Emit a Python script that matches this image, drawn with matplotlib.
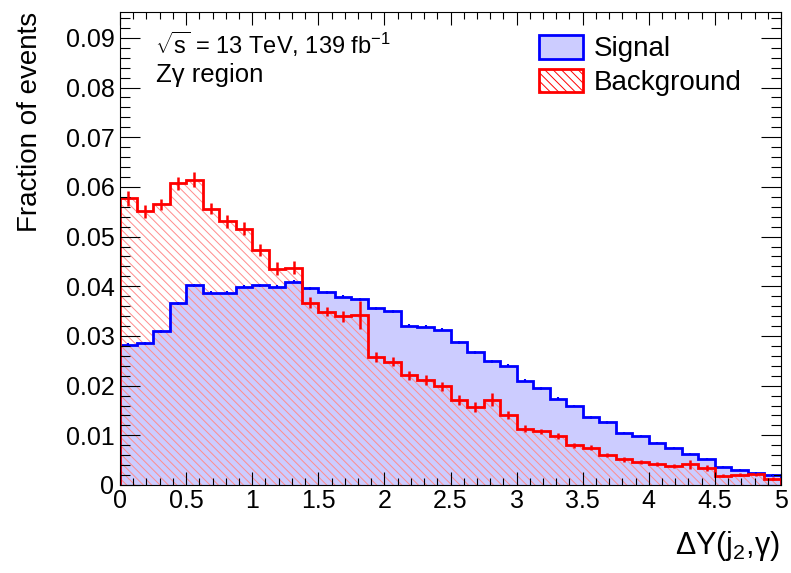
import numpy as np
import matplotlib
matplotlib.use('Agg')
import matplotlib.pyplot as plt
from matplotlib.ticker import MultipleLocator, FuncFormatter
from matplotlib.patches import Patch

plt.rcParams['font.family'] = ['Liberation Sans', 'DejaVu Sans']
plt.rcParams['mathtext.fontset'] = 'custom'
plt.rcParams['mathtext.rm'] = 'Liberation Sans'
plt.rcParams['mathtext.it'] = 'Liberation Sans'
plt.rcParams['hatch.linewidth'] = 0.7

# 40 bins of dY(j2, gamma), 0 - 5
edges = np.linspace(0, 5, 41)

signal = [0.0282, 0.0285, 0.0309, 0.0366, 0.0402, 0.0387, 0.0387, 0.0399, 0.0402, 0.0399,
          0.0409, 0.0396, 0.0388, 0.0379, 0.0374, 0.0356, 0.0350, 0.0321, 0.0319, 0.0312,
          0.0287, 0.0267, 0.0249, 0.0240, 0.0210, 0.0195, 0.0174, 0.0159, 0.0136, 0.0126,
          0.0104, 0.0099, 0.0084, 0.0074, 0.0062, 0.0052, 0.0036, 0.0030, 0.0024, 0.0020]
signal_err = [0.0003, 0.0003, 0.0003, 0.0003, 0.0003, 0.0003, 0.0003, 0.0003, 0.0003, 0.0003,
              0.0003, 0.0003, 0.0003, 0.0003, 0.0003, 0.0003, 0.0003, 0.0003, 0.0003, 0.0003,
              0.0003, 0.0003, 0.0003, 0.0003, 0.0003, 0.0003, 0.0003, 0.0003, 0.0003, 0.0003,
              0.0002, 0.0002, 0.0002, 0.0002, 0.0002, 0.0002, 0.0002, 0.0002, 0.0002, 0.0002]

background = [0.0577, 0.0551, 0.0565, 0.0607, 0.0614, 0.0556, 0.0531, 0.0516, 0.0473, 0.0435,
              0.0437, 0.0367, 0.0349, 0.0340, 0.0342, 0.0258, 0.0248, 0.0221, 0.0211, 0.0199,
              0.0171, 0.0157, 0.0172, 0.0140, 0.0113, 0.0108, 0.0098, 0.0080, 0.0075, 0.0060,
              0.0052, 0.0047, 0.0042, 0.0038, 0.0042, 0.0034, 0.0019, 0.0021, 0.0022, 0.0013]
background_err = [0.0015, 0.0013, 0.0011, 0.0013, 0.0015, 0.0011, 0.0013, 0.0013, 0.0012, 0.0013,
                  0.0013, 0.0011, 0.0009, 0.0011, 0.0028, 0.0010, 0.0009, 0.0009, 0.0010, 0.0009,
                  0.0010, 0.0011, 0.0013, 0.0008, 0.0007, 0.0005, 0.0006, 0.0005, 0.0005, 0.0004,
                  0.0005, 0.0004, 0.0004, 0.0004, 0.0009, 0.0006, 0.0003, 0.0003, 0.0003, 0.0003]

centers = 0.5 * (edges[:-1] + edges[1:])

fig = plt.figure(figsize=(7.91, 5.73), dpi=100)
ax = fig.add_axes([120 / 791, 88 / 573, 661 / 791, 473 / 573])

blue_fill = (0.8, 0.8, 1.0)
hatch_col = (1.0, 0.55, 0.55)

ax.stairs(signal, edges, fill=True, facecolor=blue_fill, edgecolor='none', linewidth=0)
ax.stairs(background, edges, fill=True, facecolor='none', edgecolor=hatch_col,
          hatch='\\\\\\\\', linewidth=0)
ax.stairs(signal, edges, color='blue', linewidth=2)
ax.errorbar(centers, signal, yerr=signal_err, fmt='none', ecolor='blue', elinewidth=1.5)
ax.stairs(background, edges, color='red', linewidth=2)
ax.errorbar(centers, background, yerr=background_err, fmt='none', ecolor='red', elinewidth=1.8)

ax.set_xlim(0, 5)
ax.set_ylim(0, 0.0952)
ax.xaxis.set_major_locator(MultipleLocator(0.5))
ax.xaxis.set_minor_locator(MultipleLocator(0.1))
ax.yaxis.set_major_locator(MultipleLocator(0.01))
ax.yaxis.set_minor_locator(MultipleLocator(0.002))
ax.xaxis.set_major_formatter(FuncFormatter(lambda v, p: '%g' % v))
ax.yaxis.set_major_formatter(FuncFormatter(lambda v, p: '0' if abs(v) < 1e-9 else '%.2f' % v))

ax.tick_params(which='both', direction='in', top=True, right=True, width=0.8, labelsize=18)
ax.tick_params(axis='x', which='major', length=9.4, pad=3)
ax.tick_params(axis='x', which='minor', length=4.7)
ax.tick_params(axis='y', which='major', length=14.4, pad=4)
ax.tick_params(axis='y', which='minor', length=7.2)
for s in ax.spines.values():
    s.set_linewidth(0.8)

handles = [Patch(facecolor=blue_fill, edgecolor='blue', linewidth=2),
           Patch(facecolor='white', edgecolor='red', hatch='\\\\\\\\', linewidth=2)]
leg = ax.legend(handles, ['Signal', 'Background'], loc='upper left',
                bbox_to_anchor=((539 - 120) / 661, (485 - 35) / 473), frameon=False,
                fontsize=20, handlelength=1.58, handleheight=0.94, handletextpad=0.4,
                labelspacing=0.22, borderpad=0, borderaxespad=0)

fig.text(155 / 791, 1 - 54 / 573, r'$\sqrt{\mathrm{s}}$ = 13 TeV, 139 fb$^{-1}$',
         fontsize=17, ha='left', va='baseline')
fig.text(156 / 791, 1 - 82 / 573, 'Z\u03b3 region', fontsize=18.5, ha='left', va='baseline')

fig.text(30 / 791, 1 - 12 / 573, 'Fraction of events', fontsize=20, rotation=90,
         ha='center', va='top')
fig.text(780 / 791, 1 - 554 / 573, '\u0394Y($\\mathrm{j}_{2}$,\u03b3)',
         fontsize=22, ha='right', va='baseline')

fig.savefig('out.png', dpi=100)
